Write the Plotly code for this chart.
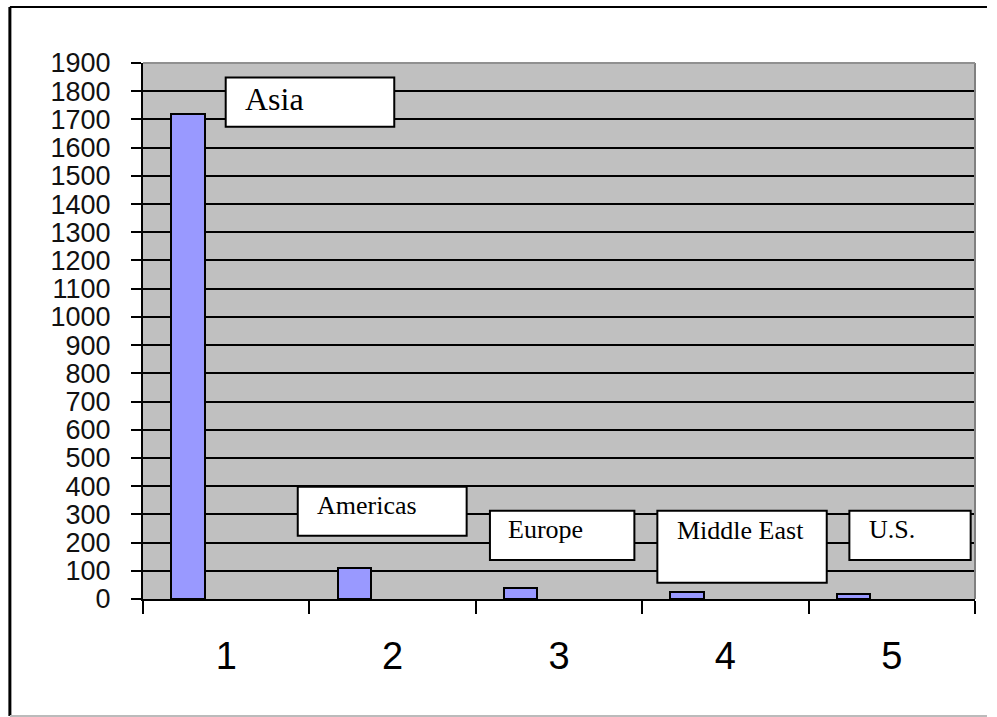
import plotly.graph_objects as go

categories = ["1", "2", "3", "4", "5"]
values = [1720, 110, 40, 25, 18]
region_labels = ["Asia", "Americas", "Europe", "Middle East", "U.S."]
y_ticks = list(range(0, 2000, 100))

# label boxes (x in category index units, y in data units)
box_x0 = [-0.003, 0.430, 1.585, 2.591, 3.745]
box_x1 = [1.010, 1.445, 2.453, 3.609, 4.474]
box_y0 = [1674, 224, 138, 58, 138]
box_y1 = [1849, 398, 313, 313, 313]
text_x = [0.101, 0.534, 1.681, 2.697, 3.849]
text_y = [1772, 332, 248, 243, 248]
text_size = [32, 26, 26, 26, 26]

fig = go.Figure()
fig.add_trace(go.Bar(
    x=categories, y=values,
    width=0.2, offset=-0.33,
    marker=dict(color="#9999FF", line=dict(color="black", width=2)),
    showlegend=False,
))

shapes = []
annotations = []
for i, lab in enumerate(region_labels):
    shapes.append(dict(type="rect", xref="x", yref="y",
                       x0=box_x0[i], x1=box_x1[i], y0=box_y0[i], y1=box_y1[i],
                       fillcolor="white", line=dict(color="black", width=2),
                       layer="above"))
    annotations.append(dict(x=text_x[i], y=text_y[i], xref="x", yref="y",
                            text=lab, showarrow=False, xanchor="left", yanchor="middle",
                            font=dict(family="Liberation Serif, Times New Roman, serif",
                                      size=text_size[i], color="black")))

# outer frame lines (paper coords)
shapes.append(dict(type="line", xref="paper", yref="paper", x0=-0.16, x1=1.0144,
                   y0=1.1045, y1=1.1045, line=dict(color="black", width=2)))
shapes.append(dict(type="line", xref="paper", yref="paper", x0=-0.16, x1=-0.16,
                   y0=1.1045, y1=-0.2183, line=dict(color="black", width=3)))
shapes.append(dict(type="line", xref="paper", yref="paper", x0=-0.16, x1=1.0144,
                   y0=-0.2183, y1=-0.2183, line=dict(color="#BBBBBB", width=2)))
# plot area right/top border
shapes.append(dict(type="line", xref="paper", yref="paper", x0=1, x1=1,
                   y0=0, y1=1, line=dict(color="#808080", width=2)))
shapes.append(dict(type="line", xref="paper", yref="paper", x0=0, x1=1,
                   y0=1, y1=1, line=dict(color="#909090", width=2)))

fig.update_layout(
    width=997, height=717,
    margin=dict(l=143, r=22, t=63, b=118),
    paper_bgcolor="white",
    plot_bgcolor="#C0C0C0",
    bargap=0,
    shapes=shapes,
    annotations=annotations,
    xaxis=dict(type="category", categoryorder="array", categoryarray=categories,
               range=[-0.5, 4.5], tickson="boundaries", ticks="outside", ticklen=13,
               tickwidth=2, tickcolor="black", showline=True, linecolor="black", linewidth=2,
               showgrid=False, ticklabelstandoff=22,
               tickfont=dict(family="Liberation Sans, Arial, sans-serif", size=38, color="black")),
    yaxis=dict(range=[0, 1900], tickvals=y_ticks, ticks="outside", ticklen=10,
               tickwidth=2, tickcolor="black", showline=True, linecolor="black", linewidth=2,
               showgrid=True, gridcolor="black", gridwidth=2, zeroline=False,
               ticklabelstandoff=15,
               tickfont=dict(family="Liberation Sans, Arial, sans-serif", size=27, color="#111111")),
)

fig.write_html("out.html")
